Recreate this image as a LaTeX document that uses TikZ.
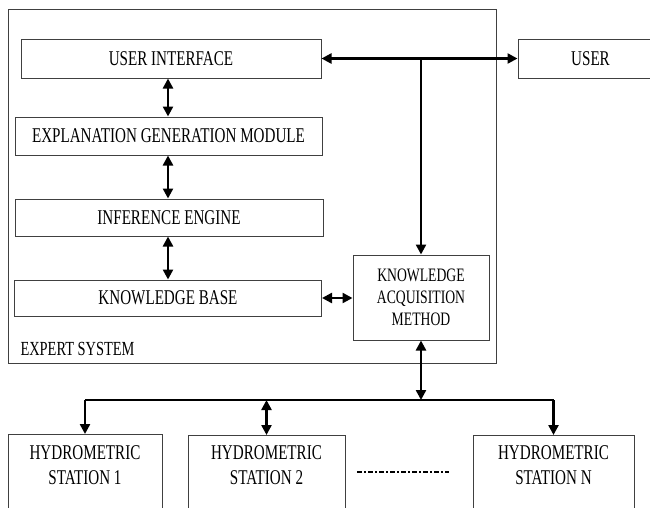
\documentclass[tikz,border=0pt]{standalone}
\usepackage{fontspec}
\setmainfont{Liberation Serif}[FakeStretch=0.72]
\usetikzlibrary{arrows.meta}
\begin{document}
\begin{tikzpicture}[x=1pt,y=-1pt,
  box/.style={draw=black!75,line width=1pt,rectangle,inner sep=0pt,align=center,font=\fontsize{21}{22}\selectfont},
  stext/.style={inner sep=0pt,align=center,font=\fontsize{21}{25}\selectfont},
  link/.style={line width=2.4pt,{Triangle[length=10pt,width=10pt]}-{Triangle[length=10pt,width=10pt]}},
  feed/.style={line width=2.4pt,-{Triangle[length=10pt,width=10pt]}},
  wire/.style={line width=2.4pt}]
\useasboundingbox[fill=white] (0,0) rectangle (650,507);
% expert system frame
\node[draw=black!75,line width=1pt,rectangle,inner sep=0pt,minimum width=488pt,minimum height=354pt] (es) at (252,186) {};
\node[anchor=west,font=\fontsize{20}{22}\selectfont] (eslabel) at (17,349) {EXPERT SYSTEM};
% inner boxes
\node[box,minimum width=300pt,minimum height=39pt] (ui) at (171,58.5) {USER INTERFACE};
\node[box,minimum width=307pt,minimum height=38pt] (egm) at (168.5,136) {EXPLANATION GENERATION MODULE};
\node[box,minimum width=308pt,minimum height=37pt] (ie) at (169,217.5) {INFERENCE ENGINE};
\node[box,minimum width=307pt,minimum height=36pt] (kb) at (168,298) {KNOWLEDGE BASE};
\node[box,minimum width=136pt,minimum height=85pt,font=\fontsize{19}{22}\selectfont] (kam) at (421,297.5) {KNOWLEDGE\\ACQUISITION\\METHOD};
\node[box,minimum width=145pt,minimum height=39pt] (user) at (590.5,58.5) {USER};
% stations
\node[box,minimum width=154pt,minimum height=80pt,anchor=north] (s1) at (85,434) {};
\node[box,minimum width=157pt,minimum height=80pt,anchor=north] (s2) at (266.5,435) {};
\node[box,minimum width=161pt,minimum height=80pt,anchor=north] (sn) at (553.5,435) {};
\node[stext] (s1t) at (85,465) {HYDROMETRIC\\STATION 1};
\node[stext] (s2t) at (266.5,465) {HYDROMETRIC\\STATION 2};
\node[stext] (snt) at (553.5,465) {HYDROMETRIC\\STATION N};
% connectors
\coordinate (j) at (421,58.5);
\coordinate (bus) at (421,400);
\coordinate (b1) at (85,400);
\coordinate (b2) at (266.5,400);
\coordinate (bn) at (553.5,400);
\coordinate (d1) at (357,472);
\coordinate (d2) at (449,472);
\draw[link] (ui.east) -- (user.west);
\draw[feed] (j) -- (kam.north);
\draw[link] (ui.south -| 168,0) -- (egm.north -| 168,0);
\draw[link] (egm.south -| 168,0) -- (ie.north -| 168,0);
\draw[link] (ie.south -| 168,0) -- (kb.north -| 168,0);
\draw[link] (kb.east) -- (kam.west |- kb.east);
\draw[link] (kam.south) -- (bus);
\draw[wire] (b1) -- (bn);
\draw[feed] (b1) -- (s1.north);
\draw[link] (b2) -- (s2.north);
\draw[feed] (bn) -- (sn.north);
\draw[line width=2.4pt,dash pattern=on 5pt off 2pt on 2pt off 2pt] (d1) -- (d2);
\end{tikzpicture}
\end{document}
